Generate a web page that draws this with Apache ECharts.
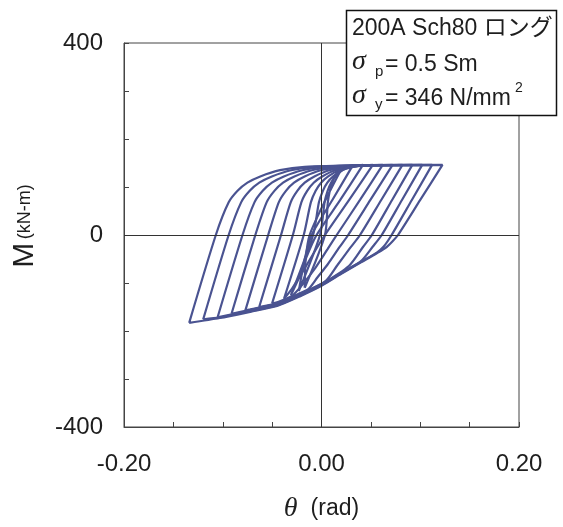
<!DOCTYPE html>
<html>
<head>
<meta charset="utf-8">
<script src="https://cdn.jsdelivr.net/npm/echarts@6.0.0/dist/echarts.min.js"></script>
<style>
  html, body { margin: 0; padding: 0; background: #fff; }
  #chart { width: 563px; height: 527px; }
</style>
</head>
<body>
<div id="chart"></div>
<script>
// Labelled ticks on each axis
const xTickValues = [-0.2, 0, 0.2];
const yTickValues = [-400, 0, 400];

// Hysteresis loops, [theta (rad), M (kN-m)], outermost first.
// Each loop: rising branch from the negative peak, then the falling branch back.
const loop1 = [[-0.134,-183],[-0.107,0],[-0.094,68],[-0.085,92],[-0.075,109],[-0.062,122],[-0.042,135],[-0.017,142],[0.04,145],[0.1225,146],
  [0.100,73],[0.0775,0],[0.072,-13],[0.066,-25],[0.056,-38],[0.04,-57],[0.02,-81],[0.0,-106],[-0.022,-128],[-0.045,-148],[-0.072,-160],[-0.103,-173],[-0.134,-183]];
const loop2 = [[-0.1198,-175.7],[-0.094,0],[-0.0814,68],[-0.0727,92],[-0.063,109],[-0.0503,122],[-0.0309,135],[-0.0067,142],[0.04,145],[0.112,146],
  [0.0915,73],[0.071,0],[0.063,-24],[0.056,-36.7],[0.04,-55.7],[0.02,-79.7],[0.0,-104.7],[-0.022,-126.7],[-0.045,-146.7],[-0.072,-158.7],[-0.103,-171.7],[-0.1198,-175.7]];
const loop3 = [[-0.1052,-171.4],[-0.080,0],[-0.0679,68],[-0.0595,92],[-0.0502,109],[-0.0381,122],[-0.0195,135],[0.0037,142],[0.04,145],[0.102,146],
  [0.0815,73],[0.061,0],[0.052,-24],[0.04,-54.4],[0.02,-78.4],[0.0,-103.4],[-0.022,-125.4],[-0.045,-145.4],[-0.072,-157.4],[-0.1052,-171.4]];
const loop4 = [[-0.0911,-164],[-0.067,0],[-0.0556,68],[-0.0477,92],[-0.0389,109],[-0.0274,122],[-0.0098,135],[0.0122,142],[0.04,145],[0.092,146],
  [0.0715,73],[0.051,0],[0.042,-25],[0.028,-64],[0.0,-102.1],[-0.022,-124.1],[-0.045,-144.1],[-0.072,-156.1],[-0.0911,-164]];
const loop5 = [[-0.0771,-157],[-0.054,0],[-0.0433,68],[-0.036,92],[-0.0278,109],[-0.0171,122],[-0.0007,135],[0.0198,142],[0.04,145],[0.082,146],
  [0.0605,73],[0.039,0],[0.029,-27],[0.016,-63],[0.004,-96],[-0.022,-122.8],[-0.045,-142.8],[-0.072,-154.8],[-0.0771,-157]];
const loop6 = [[-0.0631,-150],[-0.041,0],[-0.0312,68],[-0.0245,92],[-0.017,109],[-0.0072,122],[0.0078,135],[0.0265,142],[0.045,145],[0.072,146],
  [0.0495,73],[0.027,0],[0.018,-26],[0.006,-62],[-0.004,-88],[-0.013,-112],[-0.022,-121.5],[-0.045,-141.5],[-0.0631,-150]];
const loop7 = [[-0.050,-142.4],[-0.029,0],[-0.0204,68],[-0.0145,92],[-0.0079,109],[0.0007,122],[0.0139,135],[0.0304,142],[0.045,145],[0.062,146],
  [0.039,73],[0.0154,0],[0.006,-30],[-0.006,-68],[-0.018,-100],[-0.030,-127],[-0.045,-140.2],[-0.050,-142.4]];
const loop8 = [[-0.038,-133],[-0.018,0],[-0.0108,68],[-0.0059,92],[-0.0004,109],[0.0068,122],[0.0178,135],[0.0315,142],[0.052,146],
  [0.028,73],[0.0035,0],[-0.008,-38],[-0.020,-80],[-0.030,-112],[-0.038,-133]];
const loop9 = [[-0.031,-125.4],[-0.0085,0],[-0.0026,68],[0.0014,92],[0.0059,109],[0.0118,122],[0.0208,135],[0.032,142],[0.042,146],
  [0.019,73],[-0.005,0],[-0.015,-45],[-0.022,-85],[-0.031,-125.4]];
const loop10 = [[-0.023,-117],[-0.0015,0],[0.0031,68],[0.0062,92],[0.0097,109],[0.0143,122],[0.0213,135],[0.032,146],
  [0.011,73],[-0.010,0],[-0.017,-50],[-0.023,-117]];
const loop11 = [[-0.017,-110],[0.0035,0],[0.0064,68],[0.0084,92],[0.0106,109],[0.0134,122],[0.0178,135],[0.022,145],
  [0.004,73],[-0.012,0],[-0.016,-50],[-0.017,-110]];

const loops = [loop1, loop2, loop3, loop4, loop5, loop6, loop7, loop8, loop9, loop10, loop11];

const lineColor = '#4a5391';
const textColor = '#1e1e1e';
const sans = '"Liberation Sans", Arial, "Noto Sans CJK JP", sans-serif';
const serif = '"Liberation Serif", "DejaVu Serif", serif';

const isTick = (list, v) => list.some(t => Math.abs(t - v) < 1e-9);

const series = loops.map(pts => ({
  type: 'line',
  data: pts,
  showSymbol: false,
  symbol: 'none',
  smooth: 0.25,
  silent: true,
  animation: false,
  lineStyle: { color: lineColor, width: 2.2 },
  z: 3
}));

// Zero cross-lines through the plot
series[0].markLine = {
  silent: true,
  symbol: 'none',
  animation: false,
  label: { show: false },
  lineStyle: { color: '#333', width: 1, type: 'solid' },
  data: [{ xAxis: 0 }, { yAxis: 0 }]
};

const chart = echarts.init(document.getElementById('chart'), null, { renderer: 'canvas' });
chart.setOption({
  animation: false,
  backgroundColor: '#fff',
  grid: {
    left: 124, right: 44, top: 43, bottom: 100,
    outerBoundsMode: 'none',
    containLabel: false,
    show: true, borderColor: '#444', borderWidth: 1, backgroundColor: 'transparent'
  },
  xAxis: {
    type: 'value',
    min: -0.2, max: 0.2, interval: 0.05,
    axisLine: { show: true, onZero: false, lineStyle: { color: '#444', width: 1 } },
    axisTick: { show: true, inside: true, length: 5, lineStyle: { color: '#444' } },
    splitLine: { show: false },
    axisLabel: {
      show: true, margin: 25, color: textColor, fontSize: 24, fontFamily: sans,
      showMinLabel: true, showMaxLabel: true,
      formatter: v => isTick(xTickValues, v) ? v.toFixed(2) : ''
    },
    name: '{t|θ}{u|(rad)}',
    nameLocation: 'middle',
    nameGap: 68,
    nameTextStyle: {
      rich: {
        t: { fontFamily: serif, fontStyle: 'italic', fontSize: 28, color: textColor },
        u: { fontFamily: sans, fontSize: 23, color: textColor, padding: [0, 0, 0, 13] }
      }
    }
  },
  yAxis: {
    type: 'value',
    min: -400, max: 400, interval: 100,
    axisLine: { show: true, onZero: false, lineStyle: { color: '#444', width: 1 } },
    axisTick: { show: true, inside: true, length: 5, lineStyle: { color: '#444' } },
    splitLine: { show: false },
    axisLabel: {
      show: true, margin: 21, color: textColor, fontSize: 24, fontFamily: sans,
      showMinLabel: true, showMaxLabel: true,
      formatter: v => isTick(yTickValues, v) ? String(v) : ''
    },
    name: '{m|M} {u|(kN-m)}',
    nameLocation: 'middle',
    nameRotate: 90,
    nameGap: 84,
    nameTextStyle: {
      padding: [0, 0, 0, 18],
      rich: {
        m: { fontFamily: sans, fontSize: 30, color: textColor },
        u: { fontFamily: sans, fontSize: 18, color: textColor }
      }
    }
  },
  series: series,
  graphic: [
    { type: 'rect', z: 100, shape: { x: 346.5, y: 10.5, width: 210, height: 105 },
      style: { fill: '#fff', stroke: '#111', lineWidth: 1.5 } },
    { type: 'text', z: 101, x: 352, y: 29,
      style: { text: '200A Sch80 ロング', font: '23px ' + sans, fill: textColor, textAlign: 'left', textVerticalAlign: 'middle', verticalAlign: 'middle' } },
    { type: 'text', z: 101, x: 352, y: 62,
      style: { text: 'σ', font: 'italic 28px ' + serif, fill: textColor, textAlign: 'left', textVerticalAlign: 'middle', verticalAlign: 'middle' } },
    { type: 'text', z: 101, x: 375, y: 72,
      style: { text: 'p', font: '15px ' + sans, fill: textColor, textAlign: 'left', textVerticalAlign: 'middle', verticalAlign: 'middle' } },
    { type: 'text', z: 101, x: 385, y: 64.5,
      style: { text: '= 0.5 Sm', font: '23px ' + sans, fill: textColor, textAlign: 'left', textVerticalAlign: 'middle', verticalAlign: 'middle' } },
    { type: 'text', z: 101, x: 352, y: 96,
      style: { text: 'σ', font: 'italic 28px ' + serif, fill: textColor, textAlign: 'left', textVerticalAlign: 'middle', verticalAlign: 'middle' } },
    { type: 'text', z: 101, x: 375, y: 105,
      style: { text: 'y', font: '15px ' + sans, fill: textColor, textAlign: 'left', textVerticalAlign: 'middle', verticalAlign: 'middle' } },
    { type: 'text', z: 101, x: 385, y: 98.5,
      style: { text: '= 346 N/mm', font: '23px ' + sans, fill: textColor, textAlign: 'left', textVerticalAlign: 'middle', verticalAlign: 'middle' } },
    { type: 'text', z: 101, x: 515, y: 88,
      style: { text: '2', font: '14px ' + sans, fill: textColor, textAlign: 'left', textVerticalAlign: 'middle', verticalAlign: 'middle' } }
  ]
});
</script>
</body>
</html>
